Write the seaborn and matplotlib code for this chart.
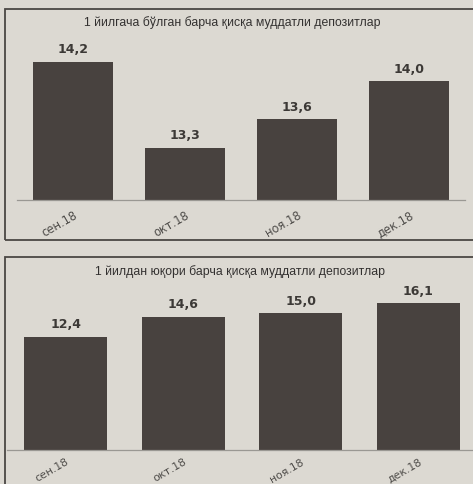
import numpy as np
import pandas as pd
import seaborn as sns
import matplotlib.pyplot as plt
from matplotlib.patches import Rectangle

months = ["сен.18", "окт.18", "ноя.18", "дек.18"]
short_vals = [14.2, 13.3, 13.6, 14.0]
long_vals = [12.4, 14.6, 15.0, 16.1]
title_short = "1 йилгача бўлган барча қисқа муддатли депозитлар"
title_long = "1 йилдан юқори барча қисқа муддатли депозитлар"

paper = "#dcd9d2"
bar_col = "#48423f"

sns.set_theme(style="white")
plt.rcParams['font.family'] = ['DejaVu Sans']

W, H = 473, 484
fig = plt.figure(figsize=(W / 100, H / 100), dpi=100)
fig.patch.set_facecolor(paper)


def px_axes(x0, x1, ybot, ytop):
    # pixel box (y measured from the top) -> axes
    return fig.add_axes([x0 / W, (H - ybot) / H, (x1 - x0) / W, (ybot - ytop) / H])


def frame(x0, y0, x1, y1):
    fig.patches.append(Rectangle((x0 / W, (H - y1) / H), (x1 - x0) / W, (y1 - y0) / H,
                                 transform=fig.transFigure, fill=False,
                                 edgecolor="#4a4744", linewidth=1.3))


def panel(ax, vals, ylim, pad=6.5, tsize=8.3):
    df = pd.DataFrame({"month": months, "value": vals})
    sns.barplot(data=df, x="month", y="value", color=bar_col, width=0.71,
                saturation=1, linewidth=0, ax=ax)
    ax.set_ylim(*ylim)
    ax.set_xlim(-0.5, len(months) - 0.5)
    ax.set_facecolor("none")
    for s in ["top", "left", "right"]:
        ax.spines[s].set_visible(False)
    ax.spines["bottom"].set_color("#9a9893")
    ax.spines["bottom"].set_linewidth(0.9)
    ax.set_yticks([])
    ax.set_xlabel("")
    ax.set_ylabel("")
    ax.set_xticks(np.arange(len(months) + 1) - 0.5, minor=True)
    ax.tick_params(axis="x", which="minor", length=4, color="#9a9893", direction="out")
    ax.tick_params(axis="x", which="major", length=0, pad=pad)
    ax.set_xticks(range(len(months)))
    ax.set_xticklabels(months, rotation=30, ha="right", va="top",
                       rotation_mode="anchor", color="#4f4d4a", fontsize=tsize)
    for p, v in zip(ax.patches, vals):
        ax.annotate(f"{v:.1f}".replace(".", ","),
                    (p.get_x() + p.get_width() / 2, p.get_height()),
                    xytext=(0, 4), textcoords="offset points", ha="center",
                    va="bottom", fontsize=9, fontweight="semibold", color="#3c3936")


# top panel
frame(5, 9, 480, 240)
ax1 = px_axes(17, 465, 200, 40)
panel(ax1, short_vals, (12.756, 12.756 + 160 / 95.6))
fig.text(232 / W, (H - 23) / H, title_short, ha="center", va="center",
         fontsize=8.8, color="#333130", family=["Liberation Sans", "DejaVu Sans"])

# bottom panel
frame(5, 257, 480, 495)
ax2 = px_axes(7, 477, 450, 290)
panel(ax2, long_vals, (0, 160 / 9.11), pad=5, tsize=7.8)
fig.text(240 / W, (H - 272) / H, title_long, ha="center", va="center",
         fontsize=8.8, color="#333130", family=["Liberation Sans", "DejaVu Sans"])

fig.savefig("out.png", dpi=100, facecolor=paper)
